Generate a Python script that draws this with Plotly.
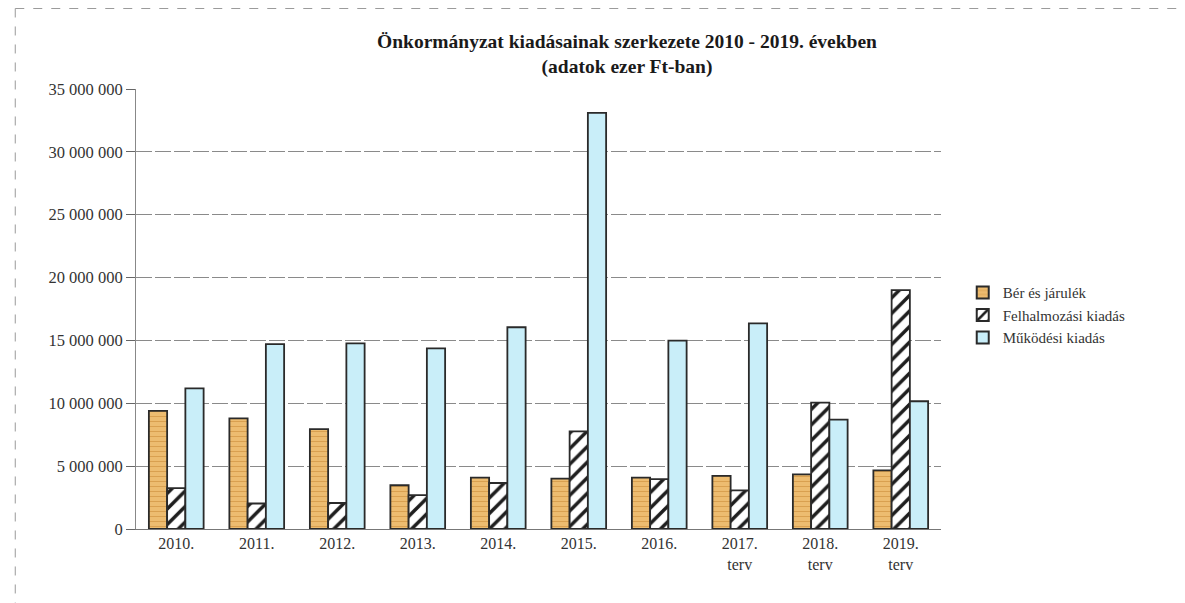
import plotly.graph_objects as go

categories = ["2010.", "2011.", "2012.", "2013.", "2014.", "2015.", "2016.",
              "2017.<br>terv", "2018.<br>terv", "2019.<br>terv"]
ber_es_jarulek = [9400000, 8800000, 7950000, 3480000, 4080000, 4010000, 4080000, 4220000, 4350000, 4670000]
felhalmozasi = [3250000, 2030000, 2070000, 2690000, 3660000, 7760000, 3960000, 3080000, 10050000, 19000000]
mukodesi = [11180000, 14700000, 14770000, 14370000, 16050000, 33100000, 14980000, 16360000, 8700000, 10160000]
series_names = ["Bér és járulék", "Felhalmozási kiadás", "Működési kiadás"]
y_ticks = [0, 5000000, 10000000, 15000000, 20000000, 25000000, 30000000, 35000000]
y_tick_labels = ["0", "5 000 000", "10 000 000", "15 000 000", "20 000 000",
                 "25 000 000", "30 000 000", "35 000 000"]

FONT = "Liberation Serif, Times New Roman, serif"
outline = dict(color="#2a2a2a", width=1.8)

# page body has an 8px margin, so the figure is sized to fit the window
W, H = 1177, 595
ML, MR, MT, MB = 128, 244, 81, 74

fig = go.Figure()
fig.add_trace(go.Bar(
    name=series_names[0], x=categories, y=ber_es_jarulek,
    marker=dict(color="#EDB96C", line=outline,
                pattern=dict(shape="-", fgcolor="#D9A050", bgcolor="#EDBC70",
                             size=5, solidity=0.2, fillmode="replace")),
))
fig.add_trace(go.Bar(
    name=series_names[1], x=categories, y=felhalmozasi,
    marker=dict(color="white", line=outline,
                pattern=dict(shape="/", fgcolor="#1e1e1e", bgcolor="white",
                             size=11, solidity=0.32, fillmode="replace")),
))
fig.add_trace(go.Bar(
    name=series_names[2], x=categories, y=mukodesi,
    marker=dict(color="#C9EEF9", line=outline),
))

fig.update_layout(
    width=W, height=H,
    paper_bgcolor="white", plot_bgcolor="white",
    margin=dict(l=ML, r=MR, t=MT, b=MB),
    barmode="group", bargap=0.32, bargroupgap=0,
    font=dict(family=FONT, size=16, color="#333"),
    title=dict(
        text="Önkormányzat kiadásainak szerkezete 2010 - 2019. években<br>(adatok ezer Ft-ban)",
        x=619 / W, xanchor="center", y=1 - 40 / H, yanchor="top",
        font=dict(family=FONT, size=19.5, color="#1a1a1a", weight="bold"),
    ),
    legend=dict(
        x=1.027, xanchor="left", y=0.486, yanchor="middle",
        font=dict(family=FONT, size=15, color="#333"),
        tracegroupgap=0, itemsizing="constant",
        bgcolor="rgba(0,0,0,0)",
    ),
    showlegend=True,
)
fig.update_yaxes(
    range=[0, 35000000], tickvals=y_ticks, ticktext=y_tick_labels,
    showgrid=True, gridcolor="#8a8a8a", gridwidth=1, griddash="16px,3px",
    showline=True, linecolor="#888", linewidth=1,
    ticks="outside", ticklen=9, tickcolor="#666",
    tickfont=dict(family=FONT, size=16.5, color="#333"),
    zeroline=False,
)
fig.update_xaxes(
    showline=True, linecolor="#777", linewidth=1.2,
    ticks="", tickfont=dict(family=FONT, size=16, color="#333"),
    showgrid=False,
)

# dashed outer frame of the original chart area
fig.add_shape(type="line", xref="paper", yref="paper",
              x0=-0.150, x1=1.303, y0=1.183, y1=1.183,
              line=dict(color="#999", width=1, dash="dash"))
fig.add_shape(type="line", xref="paper", yref="paper",
              x0=-0.150, x1=-0.150, y0=1.183, y1=-0.168,
              line=dict(color="#999", width=1, dash="dash"))

fig.write_html("out.html")
